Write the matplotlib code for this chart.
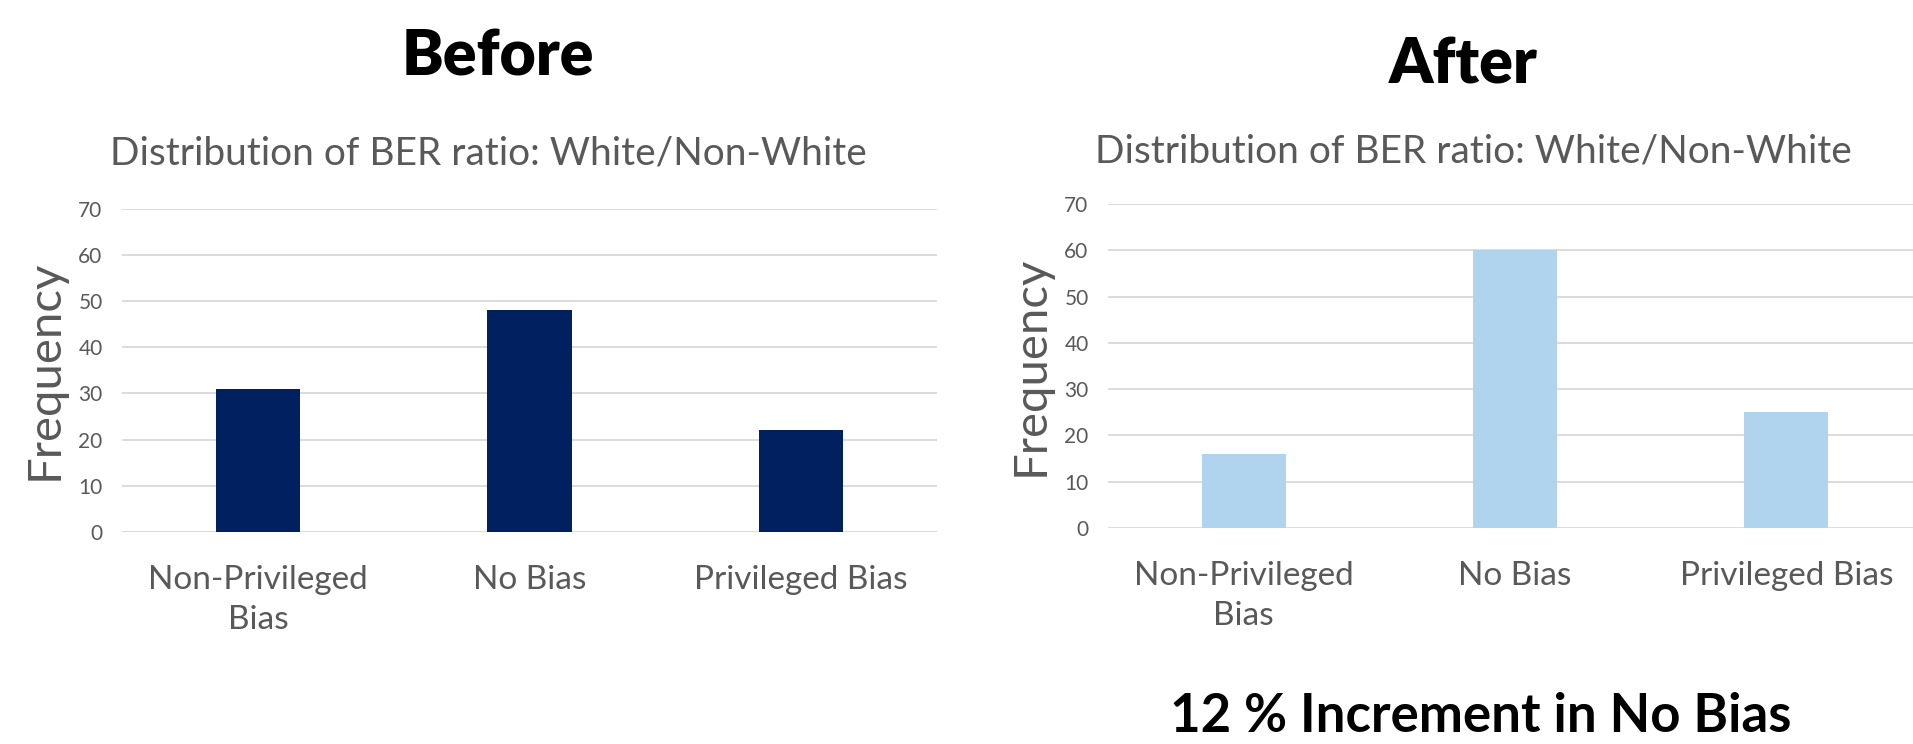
import matplotlib
matplotlib.use("Agg")
import matplotlib.pyplot as plt

categories = ["Non-Privileged\nBias", "No Bias", "Privileged Bias"]
before_values = [31, 48, 22]
after_values = [16, 60, 25]
y_ticks = [0, 10, 20, 30, 40, 50, 60, 70]

W, H = 1913, 744
DPI = 100
plt.rcParams['font.family'] = ['Lato', 'DejaVu Sans']

fig = plt.figure(figsize=(W / DPI, H / DPI), dpi=DPI)

def fx(px):
    return px / W

def fy(py):
    return 1 - py / H

GRAY = "#595959"

def make_axes(left, right, top, bottom, values, color):
    ax = fig.add_axes([fx(left), fy(bottom), fx(right - left), (bottom - top) / H])
    x = list(range(len(categories)))
    ax.bar(x, values, width=0.31, color=color, zorder=3)
    ax.set_xlim(-0.5, len(categories) - 0.5)
    ax.set_ylim(0, 70)
    ax.set_yticks(y_ticks)
    ax.set_xticks(x)
    ax.set_xticklabels(categories, fontsize=24, color=GRAY, linespacing=1.4)
    ax.tick_params(axis='y', length=0, pad=14, labelsize=15, labelcolor=GRAY)
    ax.tick_params(axis='x', length=0, pad=24)
    for s in ax.spines.values():
        s.set_visible(False)
    ax.yaxis.grid(True, color="#d9d9d9", linewidth=1.3, zorder=0)
    ax.set_axisbelow(True)
    return ax

ax1 = make_axes(122, 937, 208.6, 532, before_values, "#002060")
ax2 = make_axes(1108, 1922, 204, 528, after_values, "#B1D4EE")

# Titles
fig.text(fx(498), fy(76), "Before", fontsize=45, fontweight='heavy', color='black',
         ha='center', va='baseline')
fig.text(fx(1463), fy(83), "After", fontsize=45, fontweight='heavy', color='black',
         ha='center', va='baseline')

sub = "Distribution of BER ratio: White/Non-White"
fig.text(fx(488), fy(165), sub, fontsize=28, color=GRAY, ha='center', va='baseline')
fig.text(fx(1473), fy(163), sub, fontsize=28, color=GRAY, ha='center', va='baseline')

# Y labels
fig.text(fx(58), fy(370), "Frequency", fontsize=34, color=GRAY, rotation=90,
         rotation_mode='anchor', ha='center', va='baseline')
fig.text(fx(1044), fy(366), "Frequency", fontsize=34, color=GRAY, rotation=90,
         rotation_mode='anchor', ha='center', va='baseline')

fig.text(fx(1481), fy(732), "12 % Increment in No Bias", fontsize=38, fontweight='bold',
         color='black', ha='center', va='baseline')

fig.savefig("out.png", dpi=DPI)
